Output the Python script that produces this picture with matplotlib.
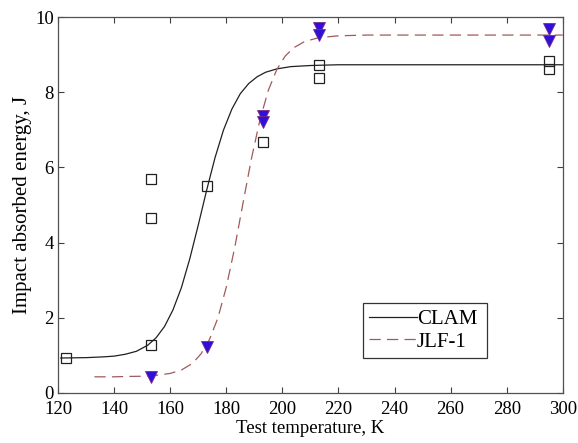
import matplotlib
matplotlib.use('Agg')
import matplotlib.pyplot as plt

# measured data points
clam_T = [123, 153, 153, 153, 173, 193, 213, 213, 295, 295]
clam_E = [0.93, 1.27, 4.66, 5.69, 5.50, 6.68, 8.72, 8.38, 8.83, 8.62]
jlf_T = [153, 173, 193, 193, 213, 213, 295, 295]
jlf_E = [0.43, 1.23, 7.38, 7.20, 9.70, 9.52, 9.67, 9.37]

# fitted curves
clam_fit_T = [121, 130, 136, 140, 144, 148, 152, 155, 158, 161, 164, 167, 170,
              173, 176, 179, 182, 185, 188, 191, 194, 198, 203, 210, 220, 240, 300]
clam_fit_E = [0.93, 0.94, 0.96, 0.98, 1.03, 1.11, 1.27, 1.47, 1.77, 2.21, 2.80, 3.57, 4.46,
              5.39, 6.26, 6.99, 7.55, 7.96, 8.23, 8.41, 8.53, 8.62, 8.68, 8.71, 8.73, 8.73, 8.73]
jlf_fit_T = [133, 140, 145, 150, 155, 160, 164, 168, 171, 174, 177, 180, 183, 186,
             189, 192, 195, 198, 201, 204, 208, 213, 220, 230, 300]
jlf_fit_E = [0.43, 0.43, 0.44, 0.445, 0.47, 0.52, 0.61, 0.79, 1.04, 1.42, 1.99, 2.81, 3.86, 5.06,
             6.24, 7.26, 8.05, 8.60, 8.96, 9.18, 9.35, 9.45, 9.50, 9.52, 9.52]

plt.rcParams['font.family'] = 'Liberation Serif'

fig = plt.figure(figsize=(5.78, 4.43), dpi=100)
ax = fig.add_axes([0.1003, 0.1129, 0.8734, 0.8487])

ax.plot(clam_fit_T, clam_fit_E, color='#202020', lw=0.9, label='CLAM')
ax.plot(jlf_fit_T, jlf_fit_E, color='#a05a5a', lw=0.9, dashes=(9, 5), label='JLF-1')

ax.plot(clam_T, clam_E, ls='none', marker='s', ms=7.5, mfc='none', mec='#202020', mew=0.9)
ax.plot(jlf_T, jlf_E, ls='none', marker='v', ms=8.5, mfc='#3010d8', mec='#7a2a8a', mew=0.6)

ax.set_xlim(120, 300)
ax.set_ylim(0, 10)
ax.set_xticks(range(120, 301, 20))
ax.set_yticks(range(0, 11, 2))
ax.tick_params(direction='in', top=True, right=True, labelsize=13.5, length=4,
               color='#404040')
ax.tick_params(axis='x', pad=6)
ax.tick_params(axis='y', pad=3)
for s in ax.spines.values():
    s.set_color('#505050')
    s.set_linewidth(0.9)

ax.set_xlabel('Test temperature, K', fontsize=13.5, labelpad=1)
ax.set_ylabel('Impact absorbed energy, J', fontsize=15, labelpad=2)

leg = ax.legend(loc='lower left', bbox_to_anchor=(0.604, 0.093, 0.245, 0.152),
                mode='expand', fontsize=15, fancybox=False, edgecolor='black',
                handlelength=2.3, handletextpad=0.0, borderpad=0.3,
                labelspacing=0.15, borderaxespad=0)
leg.get_frame().set_linewidth(0.9)

fig.savefig('out.png', dpi=100)
